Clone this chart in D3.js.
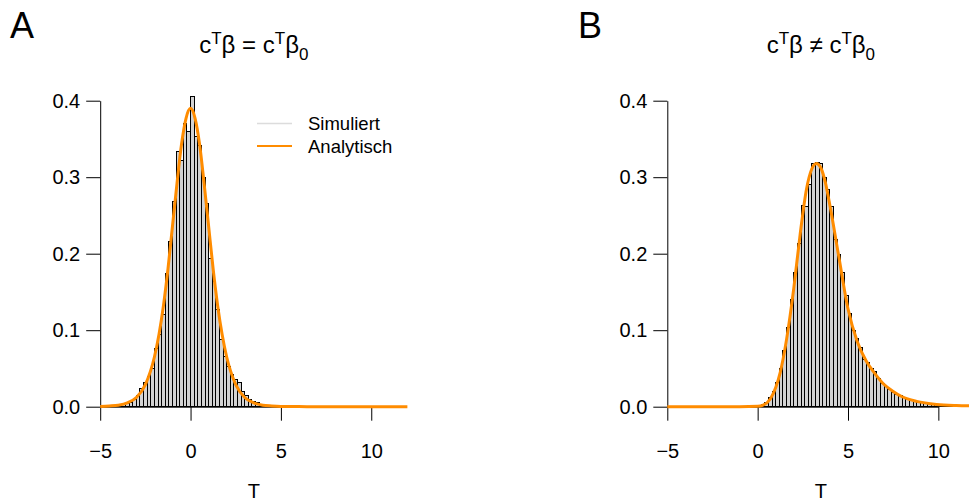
<!DOCTYPE html>
<html><head><meta charset="utf-8">
<script src="https://cdn.jsdelivr.net/npm/d3@7"></script>
<style>
body{margin:0;background:#fff}
svg{display:block}
text{font-family:"Liberation Sans",Arial,Helvetica,sans-serif;fill:#000}
</style>
</head><body>
<svg id="c" width="969" height="501"></svg>
<script>
// ---- data ----
const binWidth = 0.2;
const leftMids = [-4.5,-4.3,-4.1,-3.9,-3.7,-3.5,-3.3,-3.1,-2.9,-2.7,-2.5,-2.3,-2.1,-1.9,-1.7,-1.5,-1.3,-1.1,-0.9,-0.7,-0.5,-0.3,-0.1,
                  0.1,0.3,0.5,0.7,0.9,1.1,1.3,1.5,1.7,1.9,2.1,2.3,2.5,2.7,2.9,3.1,3.3,3.5,3.7,3.9,4.1,4.3,4.5];
const leftDensity = [0.001,0.001,0.002,0.002,0.003,0.004,0.006,0.009,0.015,0.024,0.031,0.040,0.050,0.076,0.094,0.120,0.174,0.216,0.268,0.333,0.322,0.370,0.360,
                     0.405,0.353,0.342,0.300,0.266,0.194,0.164,0.127,0.088,0.065,0.052,0.042,0.036,0.031,0.020,0.014,0.010,0.007,0.005,0.003,0.002,0.001,0.001];
const rightMids = [0.1,0.3,0.5,0.7,0.9,1.1,1.3,1.5,1.7,1.9,2.1,2.3,2.5,2.7,2.9,3.1,3.3,3.5,3.7,3.9,4.1,4.3,4.5,4.7,4.9,
                   5.1,5.3,5.5,5.7,5.9,6.1,6.3,6.5,6.7,6.9,7.1,7.3,7.5,7.7,7.9,8.1,8.3,8.5,8.7,8.9,9.1,9.3,9.5,9.7,9.9,10.1,10.3,10.5,10.7,10.9];
const rightDensity = [0.001,0.003,0.006,0.012,0.020,0.031,0.050,0.074,0.104,0.140,0.176,0.213,0.263,0.262,0.290,0.318,0.319,0.318,0.299,0.284,0.262,0.219,0.199,0.176,0.146,
                      0.122,0.099,0.089,0.078,0.062,0.058,0.050,0.046,0.037,0.030,0.027,0.022,0.019,0.016,0.014,0.012,0.010,0.008,0.007,0.006,0.005,0.004,0.004,0.003,0.003,0.002,0.002,0.001,0.001,0.001];
const leftCurveT = [-5,-4.5,-4,-3.5,-3,-2.5,-2,-1.75,-1.5,-1.25,-1,-0.75,-0.5,-0.25,0,0.25,0.5,0.75,1,1.25,1.5,1.75,2,2.5,3,3.5,4,4.5,5,6,7,12];
const leftCurveF = [0.0004,0.001,0.002,0.005,0.012,0.029,0.065,0.094,0.132,0.180,0.236,0.292,0.343,0.377,0.390,0.377,0.343,0.292,0.236,0.180,0.132,0.094,0.065,0.029,0.012,0.005,0.002,0.001,0.0004,0.0001,0,0];
const rightCurveT = [-5,-1,0,0.3,0.7,1.0,1.25,1.6,2.0,2.35,2.7,3.0,3.25,3.5,3.75,4.0,4.5,5.0,5.5,6.0,6.5,7.0,7.5,8.0,8.8,9.9,11,12];
const rightCurveF = [0,0,0.0005,0.002,0.010,0.025,0.045,0.088,0.155,0.225,0.284,0.311,0.318,0.312,0.293,0.263,0.195,0.128,0.086,0.060,0.043,0.029,0.020,0.013,0.007,0.003,0.0015,0.001];
const xTicks = [-5,0,5,10];
const yTicks = [0,0.1,0.2,0.3,0.4];
const legendLabels = ["Simuliert","Analytisch"];
const panelLetters = ["A","B"];
const xLabel = "T";

// ---- drawing ----
const svg = d3.select("#c");
const ORANGE = "#FF8C00";

const panels = [
  {mids:leftMids, dens:leftDensity, ct:leftCurveT, cf:leftCurveF, x0:100.2, letterX:10, op:"=", legend:true},
  {mids:rightMids, dens:rightDensity, ct:rightCurveT, cf:rightCurveF, x0:667.3, letterX:578, op:"\u2260", legend:false}
];

const y = d3.scaleLinear().domain([0,0.4]).range([406.7,100.7]);

panels.forEach((p,i)=>{
  const x = d3.scaleLinear().domain([-5,12]).range([p.x0, p.x0 + 17*18.07]);
  const g = svg.append("g");

  // histogram bars
  g.selectAll("rect.bar").data(p.mids.map((m,j)=>({lo:m-binWidth/2, hi:m+binWidth/2, v:p.dens[j]})))
    .enter().append("rect")
    .attr("x", d=>x(d.lo)).attr("width", d=>x(d.hi)-x(d.lo))
    .attr("y", d=>y(d.v)).attr("height", d=>y(0)-y(d.v))
    .attr("fill","#d3d3d3").attr("stroke","#000").attr("stroke-width",1)
    .attr("shape-rendering","crispEdges");

  // x axis
  const xa = x.copy().domain([-5,10]).range([x(-5),x(10)]);
  const gx = g.append("g").attr("transform",`translate(0,${y(0)})`)
    .call(d3.axisBottom(xa).tickValues(xTicks).tickSize(14).tickSizeOuter(0).tickPadding(23));
  gx.selectAll("text").attr("font-size",20).attr("font-family",null);
  gx.selectAll("line,path").attr("stroke","#000").attr("stroke-width",1);

  // y axis
  const gy = g.append("g").attr("transform",`translate(${x(-5)},0)`)
    .call(d3.axisLeft(y).tickValues(yTicks).tickFormat(d3.format(".1f")).tickSize(14).tickSizeOuter(0).tickPadding(6));
  gy.selectAll("text").attr("font-size",20).attr("font-family",null);
  gy.selectAll("line,path").attr("stroke","#000").attr("stroke-width",1);

  // analytic curve
  const line = d3.line().x(d=>x(d[0])).y(d=>y(d[1])).curve(d3.curveMonotoneX);
  g.append("path").datum(p.ct.map((t,j)=>[t,p.cf[j]]))
    .attr("d",line).attr("fill","none").attr("stroke",ORANGE).attr("stroke-width",3)
    .attr("stroke-linejoin","round");

  const cx = (x(-5)+x(12))/2;
  // x label
  g.append("text").attr("x",cx).attr("y",498).attr("text-anchor","middle").attr("font-size",20).text(xLabel);

  // title
  const t = g.append("text").attr("x",cx).attr("y",53.3).attr("text-anchor","middle").attr("font-size",24);
  t.append("tspan").text("c");
  t.append("tspan").attr("font-size",17).attr("dy",-9).text("T");
  t.append("tspan").attr("dy",9).text("\u03B2");
  t.append("tspan").text(" "+p.op+" ");
  t.append("tspan").text("c");
  t.append("tspan").attr("font-size",17).attr("dy",-9).text("T");
  t.append("tspan").attr("dy",9).text("\u03B2");
  t.append("tspan").attr("font-size",17).attr("dy",6.5).text("0");

  // panel letter
  g.append("text").attr("x",p.letterX).attr("y",38).attr("font-size",36).text(panelLetters[i]);

  if(p.legend){
    const lg = g.append("g");
    const cols = ["#dcdcdc", ORANGE];
    const widths = [1.5, 2];
    legendLabels.forEach((lab,k)=>{
      const yy = 123.5 + k*22.5;
      lg.append("line").attr("x1",257).attr("x2",292).attr("y1",yy).attr("y2",yy)
        .attr("stroke",cols[k]).attr("stroke-width",widths[k]);
      lg.append("text").attr("x",308).attr("y",yy).attr("dy","0.36em").attr("font-size",18.5).text(lab);
    });
  }
});
</script>
</body></html>
